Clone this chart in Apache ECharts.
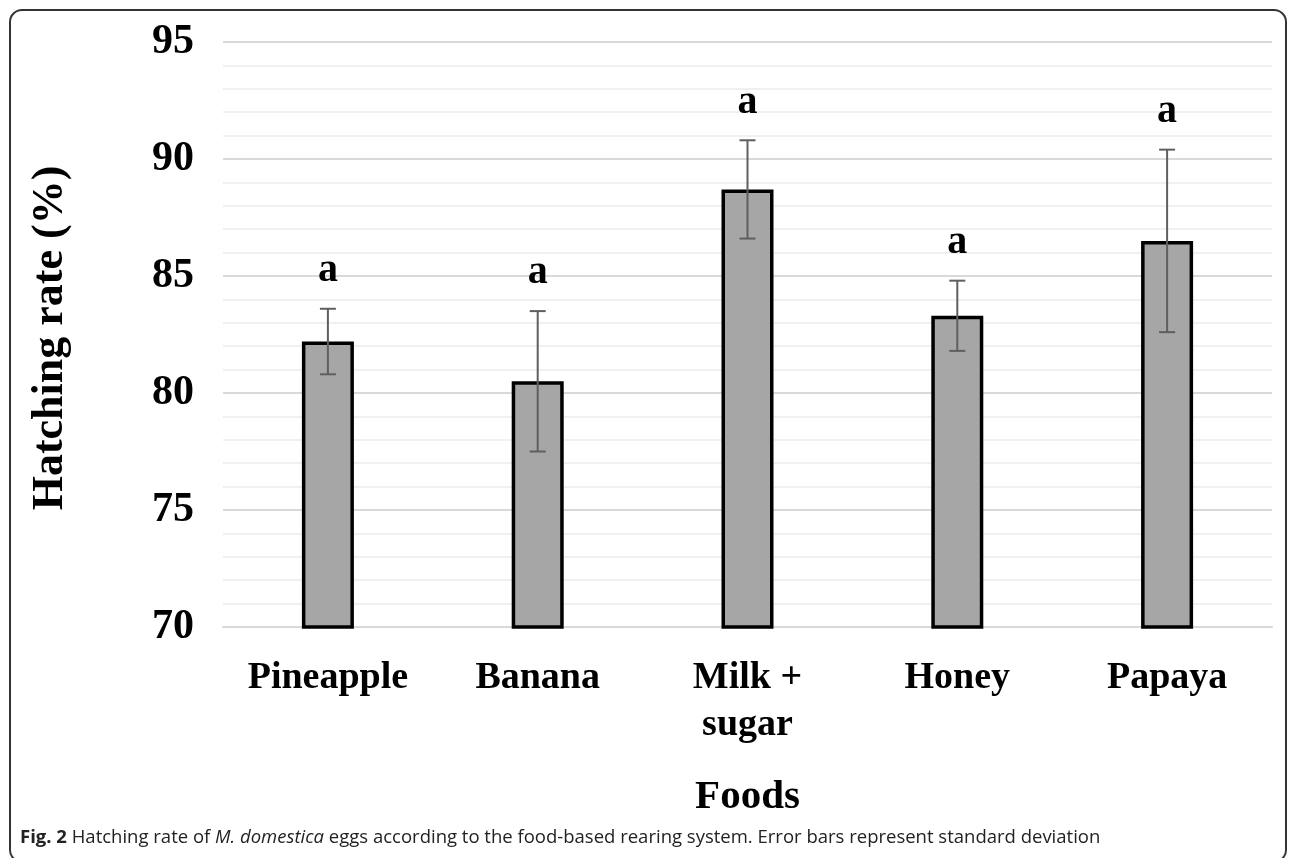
<!DOCTYPE html>
<html>
<head>
<meta charset="utf-8">
<script src="https://cdn.jsdelivr.net/npm/echarts@6/dist/echarts.min.js"></script>
<style>
  html, body { margin: 0; padding: 0; background: #ffffff; }
  #chart { width: 1290px; height: 858px; }
</style>
</head>
<body>
<div id="chart"></div>
<script>
// Hatching rate by rearing food: means, standard deviations and significance letters
const categories = ['Pineapple', 'Banana', 'Milk +\nsugar', 'Honey', 'Papaya'];
const means = [82.2, 80.5, 88.7, 83.3, 86.5];
const sds = [1.4, 3.0, 2.1, 1.5, 3.9];
const letters = ['a', 'a', 'a', 'a', 'a'];
const yTicks = [70, 75, 80, 85, 90, 95];

const serif = '"Liberation Serif", "Times New Roman", serif';
const sans = '"Open Sans", sans-serif';

const chart = echarts.init(document.getElementById('chart'), null, { renderer: 'canvas' });

const errorData = means.map((m, i) => [i, m - sds[i], m + sds[i], letters[i]]);

chart.setOption({
  animation: false,
  backgroundColor: '#ffffff',
  grid: { left: 223, right: 18, top: 42, bottom: 231 },
  xAxis: {
    type: 'category',
    data: categories,
    name: 'Foods',
    nameLocation: 'middle',
    nameGap: 150,
    nameTextStyle: { fontFamily: serif, fontWeight: 'bold', fontSize: 41, color: '#000' },
    axisLine: { lineStyle: { color: '#d9d9d9', width: 2 } },
    axisTick: { show: false },
    axisLabel: {
      fontFamily: serif, fontWeight: 'bold', fontSize: 38, color: '#000',
      margin: 28, lineHeight: 47, interval: 0
    }
  },
  yAxis: {
    type: 'value',
    min: yTicks[0],
    max: yTicks[yTicks.length - 1],
    interval: 5,
    axisLine: { show: false },
    axisTick: { show: false },
    axisLabel: { fontFamily: serif, fontWeight: 'bold', fontSize: 42, color: '#000', margin: 29 },
    splitLine: { lineStyle: { color: '#d9d9d9', width: 2 } },
    minorTick: { show: false, splitNumber: 5 },
    minorSplitLine: { show: true, lineStyle: { color: '#f0f0f0', width: 2 } }
  },
  graphic: [
    {
      type: 'rect',
      shape: { x: 10, y: 10, width: 1276, height: 852, r: 12 },
      style: { fill: 'none', stroke: '#333333', lineWidth: 2 },
      silent: true, z: -1
    },
    {
      type: 'text',
      x: 51, y: 338,
      rotation: Math.PI / 2,
      style: {
        text: 'Hatching rate (%)',
        font: 'bold 44px ' + serif,
        fill: '#000',
        textAlign: 'center', textVerticalAlign: 'middle'
      }
    },
    {
      type: 'text',
      x: 20, y: 838,
      style: {
        text: '{b|Fig. 2} Hatching rate of {i|M. domestica} eggs according to the food-based rearing system. Error bars represent standard deviation',
        font: '18.5px ' + sans,
        fill: '#222',
        textVerticalAlign: 'middle',
        rich: {
          b: { fontFamily: sans, fontWeight: 'bold', fontSize: 18.5, fill: '#222' },
          i: { fontFamily: sans, fontStyle: 'italic', fontSize: 18.5, fill: '#222' }
        }
      }
    }
  ],
  series: [
    {
      type: 'bar',
      data: means,
      barWidth: 52,
      itemStyle: { color: '#a6a6a6', borderColor: '#000', borderWidth: 3.5 },
      z: 2
    },
    {
      type: 'custom',
      data: errorData,
      z: 3,
      renderItem: function (params, api) {
        const x = api.value(0);
        const lo = api.coord([x, api.value(1)]);
        const hi = api.coord([x, api.value(2)]);
        const cap = 8;
        const stroke = { stroke: '#5f5f5f', lineWidth: 2 };
        return {
          type: 'group',
          children: [
            { type: 'line', shape: { x1: hi[0], y1: hi[1], x2: lo[0], y2: lo[1] }, style: stroke },
            { type: 'line', shape: { x1: hi[0] - cap, y1: hi[1], x2: hi[0] + cap, y2: hi[1] }, style: stroke },
            { type: 'line', shape: { x1: lo[0] - cap, y1: lo[1], x2: lo[0] + cap, y2: lo[1] }, style: stroke },
            {
              type: 'text',
              x: hi[0], y: hi[1] - 38,
              style: {
                text: api.value(3),
                font: 'bold 40px ' + serif,
                fill: '#000',
                textAlign: 'center', textVerticalAlign: 'middle'
              }
            }
          ]
        };
      }
    }
  ]
});
</script>
</body>
</html>
